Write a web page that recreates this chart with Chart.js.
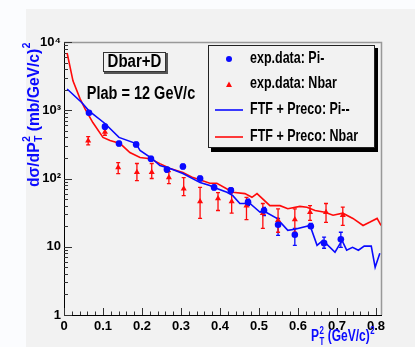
<!DOCTYPE html>
<html>
<head>
<meta charset="utf-8">
<script src="https://cdn.jsdelivr.net/npm/chart.js@4.4.1/dist/chart.umd.min.js"></script>
<style>
  html, body { margin: 0; padding: 0; background: #fbfcfe; }
  #wrap { width: 415px; height: 347px; }
</style>
</head>
<body>
<div id="wrap"><canvas id="chart" width="415" height="347"></canvas></div>
<script>
// x tick values / labels
const xTicks = [0, 0.1, 0.2, 0.3, 0.4, 0.5, 0.6, 0.7, 0.8];
const xTickLabels = ['0', '0.1', '0.2', '0.3', '0.4', '0.5', '0.6', '0.7', '0.8'];
// y tick values / labels (log axis)
const yTicks = [1, 10, 100, 1000, 10000];
const yTickLabels = ['1', '10', '10²', '10³', '10⁴'];

// exp.data: Pi-
const piX = [0.064, 0.105, 0.141, 0.185, 0.223, 0.264, 0.305, 0.349, 0.385, 0.428, 0.472, 0.513, 0.549, 0.592, 0.633, 0.667, 0.71];
const piY = [920, 575, 325, 315, 195, 135, 150, 100, 74, 67, 45, 34, 21, 15, 20, 11.3, 12.9];
const piLo = [860, 530, 300, 290, 180, 124, 138, 92, 68, 61, 40, 28.7, 14.7, 10.5, 18.6, 9.5, 9.8];
const piHi = [985, 620, 350, 340, 210, 146, 162, 108, 80, 73, 50, 37.7, 26, 18.6, 22, 13.8, 16.3];

// exp.data: Nbar
const nbarX = [0.062, 0.105, 0.139, 0.187, 0.225, 0.269, 0.307, 0.349, 0.395, 0.43, 0.468, 0.51, 0.549, 0.592, 0.631, 0.672, 0.715];
const nbarY = [357, 480, 145, 123, 123, 103, 71, 46, 51, 46, 40, 31, 24.4, 25, 32, 32, 29];
const nbarLo = [310, 430, 118, 93, 100, 84, 56, 26, 34, 31, 25, 18.6, 16.3, 16.3, 24.4, 22.7, 20.5];
const nbarHi = [410, 540, 171, 166, 166, 126, 103, 74, 62, 71, 53, 43, 36, 36, 40, 43, 38];

// FTF + Preco: Pi--
const ftfPiX = [0.008, 0.046, 0.064, 0.105, 0.141, 0.185, 0.195, 0.226, 0.246, 0.272, 0.305, 0.349, 0.374, 0.385, 0.418, 0.433, 0.451, 0.477, 0.503, 0.51, 0.546, 0.574, 0.592, 0.631, 0.649, 0.664, 0.695, 0.713, 0.725, 0.74, 0.755, 0.77, 0.788, 0.798, 0.81];
const ftfPiY = [2050, 1290, 980, 640, 400, 325, 257, 195, 155, 140, 118, 87, 79, 74, 63, 56, 43, 43, 32, 34, 26, 17.4, 18, 20.5, 10.5, 12.4, 8.3, 12.4, 8.9, 9.8, 8.9, 10.2, 10.2, 5.0, 8.0];

// FTF + Preco: Nbar
const ftfNbarX = [0.008, 0.023, 0.041, 0.054, 0.074, 0.1, 0.118, 0.144, 0.169, 0.195, 0.221, 0.246, 0.272, 0.305, 0.331, 0.374, 0.392, 0.433, 0.464, 0.482, 0.495, 0.528, 0.554, 0.574, 0.605, 0.623, 0.644, 0.669, 0.69, 0.715, 0.741, 0.767, 0.785, 0.803, 0.813];
const ftfNbarY = [6900, 2700, 1480, 1050, 660, 400, 360, 325, 240, 203, 195, 165, 140, 122, 103, 85, 85, 63, 60, 53, 60, 40, 40, 36, 39, 38, 34, 32, 29, 31, 26, 20.5, 23, 26, 20.5];

const BLUE = '#0a0aff';
const RED = '#ff0a0a';
const FONT = "'Liberation Sans', Arial, sans-serif";

function pts(xs, ys) {
    return xs.map((x, i) => ({ x: x, y: ys[i] }));
}

// text with a little vertical stretch, like the ROOT fonts
function stretchText(ctx, text, x, y, size, sy, align, color) {
    ctx.save();
    ctx.font = 'bold ' + size + 'px ' + FONT;
    ctx.fillStyle = color || '#000';
    ctx.textAlign = align || 'left';
    ctx.textBaseline = 'middle';
    ctx.translate(x, y);
    ctx.scale(1, sy);
    ctx.fillText(text, 0, 0);
    ctx.restore();
}

// background panel
const panelPlugin = {
    id: 'panel',
    beforeDraw(chart) {
        const ctx = chart.ctx;
        ctx.save();
        ctx.fillStyle = '#fbfcfe';
        ctx.fillRect(0, 0, chart.width, chart.height);
        ctx.fillStyle = '#f2f2f2';
        ctx.fillRect(26, 9, chart.width - 26, chart.height - 9);
        ctx.restore();
    }
};

// inward ticks, frame, error bars
const axesPlugin = {
    id: 'rootAxes',
    beforeDatasetsDraw(chart) {
        const ctx = chart.ctx;
        const xs = chart.scales.x, ys = chart.scales.y;
        const a = chart.chartArea;
        ctx.save();
        // frame
        ctx.strokeStyle = '#999';
        ctx.lineWidth = 1.5;
        ctx.beginPath();
        ctx.moveTo(a.left, a.top + 0.5);
        ctx.lineTo(a.right + 0.5, a.top + 0.5);
        ctx.lineTo(a.right + 0.5, a.bottom);
        ctx.stroke();

        ctx.strokeStyle = '#333';
        ctx.lineWidth = 1;
        ctx.beginPath();
        // y ticks
        for (let d = 1; d < 10000; d *= 10) {
            for (let k = 1; k < 10; k++) {
                const py = Math.round(ys.getPixelForValue(k * d)) + 0.5;
                const len = k === 1 ? 8 : 4;
                ctx.moveTo(a.left, py);
                ctx.lineTo(a.left + len, py);
            }
        }
        const pTop = Math.round(ys.getPixelForValue(10000)) + 0.5;
        ctx.moveTo(a.left, pTop);
        ctx.lineTo(a.left + 8, pTop);
        // x ticks
        for (let i = 0; i <= 40; i++) {
            const px = Math.round(xs.getPixelForValue(i * 0.02)) + 0.5;
            const len = i % 5 === 0 ? 7 : 3.5;
            ctx.moveTo(px, a.bottom);
            ctx.lineTo(px, a.bottom - len);
        }
        ctx.stroke();

        // error bars
        const bars = [[piX, piLo, piHi, BLUE], [nbarX, nbarLo, nbarHi, RED]];
        bars.forEach(([bx, lo, hi, col]) => {
            ctx.strokeStyle = col;
            ctx.lineWidth = 1.3;
            ctx.beginPath();
            bx.forEach((x, i) => {
                const px = xs.getPixelForValue(x);
                const y1 = ys.getPixelForValue(lo[i]);
                const y2 = ys.getPixelForValue(hi[i]);
                ctx.moveTo(px, y1);
                ctx.lineTo(px, y2);
                ctx.moveTo(px - 2, y1);
                ctx.lineTo(px + 2, y1);
                ctx.moveTo(px - 2, y2);
                ctx.lineTo(px + 2, y2);
            });
            ctx.stroke();
        });
        ctx.restore();
    }
};

// titles, labels and legend box
const labelsPlugin = {
    id: 'labels',
    afterDraw(chart) {
        const ctx = chart.ctx;
        ctx.save();

        // y axis title (rotated)
        ctx.save();
        ctx.translate(33, 187);
        ctx.rotate(-Math.PI / 2);
        const p1 = 'dσ/dP', p3 = ' (mb/GeV/c)';
        ctx.font = 'bold 14px ' + FONT;
        const w1 = ctx.measureText(p1).width, w3 = ctx.measureText(p3).width;
        ctx.font = 'bold 9px ' + FONT;
        const w2 = ctx.measureText('2').width + 1;
        const total = w1 + w2 + w3 + w2;
        const sx = 145 / total;
        ctx.scale(sx, 1.15);
        ctx.fillStyle = BLUE;
        ctx.textBaseline = 'alphabetic';
        ctx.font = 'bold 14px ' + FONT;
        ctx.fillText(p1, 0, 5);
        ctx.font = 'bold 9px ' + FONT;
        ctx.fillText('2', w1 + 0.5, -3);
        ctx.fillText('T', w1 + 0.5, 8);
        ctx.font = 'bold 14px ' + FONT;
        ctx.fillText(p3, w1 + w2, 5);
        ctx.font = 'bold 9px ' + FONT;
        ctx.fillText('2', w1 + w2 + w3 + 0.5, -3);
        ctx.restore();

        // x axis title
        ctx.save();
        ctx.translate(311, 341);
        ctx.fillStyle = BLUE;
        ctx.textBaseline = 'alphabetic';
        ctx.font = 'bold 13px ' + FONT;
        const q1 = 'P', q3 = ' (GeV/c)';
        const v1 = ctx.measureText(q1).width, v3 = ctx.measureText(q3).width;
        ctx.font = 'bold 8.5px ' + FONT;
        const v2 = ctx.measureText('2').width + 1;
        const sx2 = 64 / (v1 + v2 + v3 + v2);
        ctx.scale(sx2, 1.2);
        ctx.font = 'bold 13px ' + FONT;
        ctx.fillText(q1, 0, 0);
        ctx.font = 'bold 8.5px ' + FONT;
        ctx.fillText('2', v1 + 0.5, -6);
        ctx.fillText('T', v1 + 0.5, 3);
        ctx.font = 'bold 13px ' + FONT;
        ctx.fillText(q3, v1 + v2, 0);
        ctx.font = 'bold 8.5px ' + FONT;
        ctx.fillText('2', v1 + v2 + v3 + 0.5, -6);
        ctx.restore();

        // Dbar+D box
        ctx.fillStyle = '#555';
        ctx.fillRect(104, 53, 64, 21);
        ctx.fillStyle = '#f2f2f2';
        ctx.fillRect(103, 52, 63, 20);
        ctx.strokeStyle = '#333';
        ctx.lineWidth = 1;
        ctx.strokeRect(103.5, 52.5, 62, 19);
        stretchText(ctx, 'Dbar+D', 134.5, 62.5, 15, 1.2, 'center');
        stretchText(ctx, 'Plab = 12 GeV/c', 141, 93.5, 14.5, 1.3, 'center');

        // legend
        ctx.fillStyle = '#000';
        ctx.fillRect(211, 48, 167, 104);
        ctx.fillStyle = '#f2f2f2';
        ctx.fillRect(208, 45, 167, 103);
        ctx.strokeStyle = '#222';
        ctx.strokeRect(208.5, 45.5, 166, 102);

        ctx.fillStyle = BLUE;
        ctx.beginPath();
        ctx.arc(229, 59, 3, 0, Math.PI * 2);
        ctx.fill();
        ctx.fillStyle = RED;
        ctx.beginPath();
        ctx.moveTo(229, 81.5);
        ctx.lineTo(232, 87);
        ctx.lineTo(226, 87);
        ctx.closePath();
        ctx.fill();
        ctx.lineWidth = 1.6;
        ctx.strokeStyle = BLUE;
        ctx.beginPath();
        ctx.moveTo(215, 110);
        ctx.lineTo(243, 110);
        ctx.stroke();
        ctx.strokeStyle = RED;
        ctx.beginPath();
        ctx.moveTo(215, 137);
        ctx.lineTo(243, 137);
        ctx.stroke();

        const names = ['exp.data: Pi-', 'exp.data: Nbar', 'FTF + Preco: Pi--', 'FTF + Preco: Nbar'];
        const rows = [59, 84, 110, 137];
        names.forEach((n, i) => stretchText(ctx, n, 250, rows[i], 12.5, 1.25, 'left'));
        ctx.restore();
    }
};

const tickFont = { family: FONT, size: 13, weight: 'bold' };

new Chart(document.getElementById('chart').getContext('2d'), {
    type: 'scatter',
    data: {
        datasets: [{
            label: 'exp.data: Pi-',
            data: pts(piX, piY),
            backgroundColor: BLUE,
            borderColor: BLUE,
            pointStyle: 'circle',
            pointRadius: 3.3,
            borderWidth: 0,
            order: 1
        }, {
            label: 'exp.data: Nbar',
            data: pts(nbarX, nbarY),
            backgroundColor: RED,
            borderColor: RED,
            pointStyle: 'triangle',
            pointRadius: 3.5,
            borderWidth: 0,
            order: 2
        }, {
            label: 'FTF + Preco: Pi--',
            data: pts(ftfPiX, ftfPiY),
            showLine: true,
            borderColor: BLUE,
            borderWidth: 1.6,
            pointRadius: 0,
            tension: 0,
            order: 3
        }, {
            label: 'FTF + Preco: Nbar',
            data: pts(ftfNbarX, ftfNbarY),
            showLine: true,
            borderColor: RED,
            borderWidth: 1.6,
            pointRadius: 0,
            tension: 0,
            order: 4
        }]
    },
    options: {
        responsive: false,
        animation: false,
        layout: { padding: { top: 42, right: 34, left: 0, bottom: 0 } },
        plugins: {
            legend: { display: false },
            tooltip: { enabled: false }
        },
        scales: {
            x: {
                type: 'linear',
                min: 0,
                max: 0.813,
                grid: { display: false, drawTicks: false },
                border: { display: true, color: '#000', width: 1 },
                afterBuildTicks: s => { s.ticks = xTicks.map(v => ({ value: v })); },
                afterFit: s => { s.height = 32; },
                ticks: {
                    color: '#000',
                    font: tickFont,
                    padding: 4,
                    maxRotation: 0,
                    autoSkip: false,
                    callback: (v, i) => xTickLabels[i]
                }
            },
            y: {
                type: 'logarithmic',
                min: 1,
                max: 10000,
                grid: { display: false, drawTicks: false },
                border: { display: true, color: '#000', width: 1 },
                afterBuildTicks: s => { s.ticks = yTicks.map(v => ({ value: v })); },
                afterFit: s => { s.width = 64; },
                ticks: {
                    color: '#000',
                    font: tickFont,
                    padding: 3,
                    autoSkip: false,
                    callback: (v, i) => yTickLabels[i]
                }
            }
        }
    },
    plugins: [panelPlugin, axesPlugin, labelsPlugin]
});
</script>
</body>
</html>
